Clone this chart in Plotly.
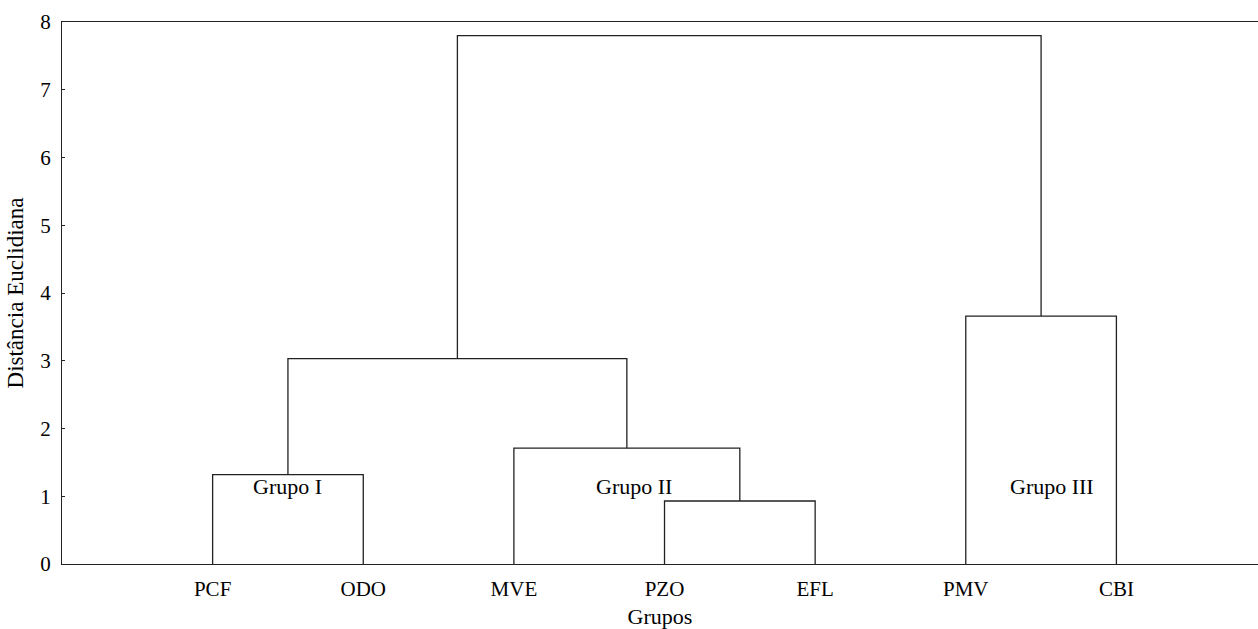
import plotly.graph_objects as go

# Leaf labels in dendrogram order (positions 1..7 on the x axis)
leaves = ["PCF", "ODO", "MVE", "PZO", "EFL", "PMV", "CBI"]

# Agglomeration steps: (node_a, node_b, linkage distance).
# Nodes 0..6 are leaves; each merge creates the next node index (7, 8, ...).
merge_a = [0, 3, 2, 7, 5, 10]
merge_b = [1, 4, 8, 9, 6, 11]
merge_h = [1.32, 0.93, 1.71, 3.03, 3.66, 7.80]

# Text annotations for the three groups
group_names = ["Grupo I", "Grupo II", "Grupo III"]
group_x = [1.5, 3.8, 6.57]
group_y = [1.14, 1.14, 1.14]

yticks = [0, 1, 2, 3, 4, 5, 6, 7, 8]

FONT = "Liberation Serif, Times New Roman, serif"

# Node coordinates: leaves sit at height 0
node_x = [i + 1 for i in range(len(leaves))]
node_y = [0.0] * len(leaves)

xs, ys = [], []
for a, b, h in zip(merge_a, merge_b, merge_h):
    xa, ya = node_x[a], node_y[a]
    xb, yb = node_x[b], node_y[b]
    xs += [xa, xa, xb, xb, None]
    ys += [ya, h, h, yb, None]
    node_x.append((xa + xb) / 2)
    node_y.append(h)

fig = go.Figure()
fig.add_trace(go.Scatter(
    x=xs, y=ys, mode="lines",
    line=dict(color="#222222", width=1.3),
    hoverinfo="skip", showlegend=False,
))

for name, gx, gy in zip(group_names, group_x, group_y):
    fig.add_annotation(x=gx, y=gy, text=name, showarrow=False,
                       font=dict(family=FONT, size=22, color="black"))

fig.update_layout(
    width=1258, height=629,
    margin=dict(l=62, r=0, t=22, b=65),
    paper_bgcolor="white", plot_bgcolor="white",
    font=dict(family=FONT, size=21, color="black"),
    xaxis=dict(
        range=[0, 7.94],
        tickmode="array", tickvals=node_x[:len(leaves)], ticktext=leaves,
        ticks="", showgrid=False, zeroline=False,
        showline=True, linecolor="#222222", linewidth=1.3, mirror=True,
        title=dict(text="Grupos", standoff=9, font=dict(size=22)),
        ticklabelstandoff=6,
    ),
    yaxis=dict(
        range=[0, 8],
        tickmode="array", tickvals=yticks,
        ticks="inside", ticklen=3, tickcolor="#222222",
        showgrid=False, zeroline=False,
        showline=True, linecolor="#222222", linewidth=1.3,
        title=dict(text="Distância Euclidiana", standoff=10, font=dict(size=23)),
        ticklabelstandoff=6,
    ),
)

fig.write_html("out.html")
